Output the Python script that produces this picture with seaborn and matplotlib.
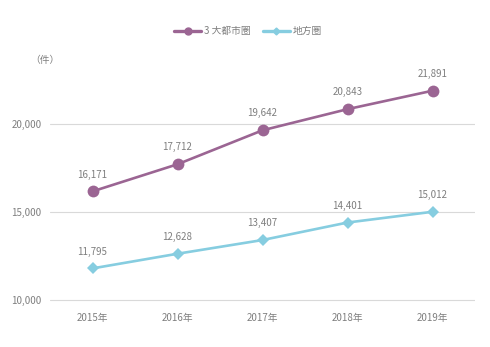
import matplotlib
matplotlib.use("Agg")
import matplotlib.pyplot as plt
import seaborn as sns
import pandas as pd
from matplotlib.lines import Line2D

years = ["2015年", "2016年", "2017年", "2018年", "2019年"]
metro = [16171, 17712, 19642, 20843, 21891]
regional = [11795, 12628, 13407, 14401, 15012]
series_names = ["3 大都市圏", "地方圏"]
yticks = [10000, 15000, 20000]

sns.set_theme(style="white")
plt.rcParams["font.family"] = ["Noto Sans CJK JP", "DejaVu Sans"]

GRAY = "#7f7f7f"
PURPLE = "#9b6593"
BLUE = "#86cde0"

df = pd.DataFrame({
    "year": years * 2,
    "value": metro + regional,
    "series": [series_names[0]] * 5 + [series_names[1]] * 5,
})

fig = plt.figure(figsize=(4.9, 3.47), dpi=100)
ax = fig.add_axes([50 / 490, (347 - 302) / 347, 425 / 490, 222 / 347])

sns.lineplot(data=df, x="year", y="value", hue="series", style="series",
             palette=[PURPLE, BLUE], markers=["o", "D"], dashes=False,
             linewidth=1.9, markeredgewidth=0, ax=ax, sort=False, legend=False)
for line, ms in zip(ax.lines, [8.5, 6]):
    line.set_markersize(ms)

ax.set_xlim(-0.5, 4.5)
ax.set_ylim(9886, 22500)
ax.set_yticks(yticks)
ax.set_yticklabels([f"{v:,}" for v in yticks])
ax.yaxis.grid(True, color="#d9d9d9", linewidth=0.8)
ax.set_axisbelow(True)
for s in ax.spines.values():
    s.set_visible(False)
ax.tick_params(axis="both", length=0, labelsize=7, colors=GRAY)
ax.tick_params(axis="y", pad=6)
ax.tick_params(axis="x", pad=8)
ax.set_xlabel("")
ax.set_ylabel("")

for vals in (metro, regional):
    for i, v in enumerate(vals):
        ax.annotate(f"{v:,}", (i, v), xytext=(0, 8.5), textcoords="offset points",
                    ha="center", va="bottom", fontsize=7, color=GRAY,
                    annotation_clip=False)

fig.text(45 / 490, 1 - 60 / 347, "（件）", ha="center", va="center",
         fontsize=7, color=GRAY)

handles = [
    Line2D([], [], color=PURPLE, marker="o", markersize=5, linewidth=2.4),
    Line2D([], [], color=BLUE, marker="D", markersize=3.5, linewidth=2.4),
]
fig.legend(handles, series_names, loc="center", bbox_to_anchor=(248 / 490, 1 - 31 / 347),
           ncol=2, frameon=False, fontsize=7, labelcolor=GRAY,
           handlelength=2.8, columnspacing=1.2, handletextpad=0.3)

fig.savefig("out.png", dpi=100)
